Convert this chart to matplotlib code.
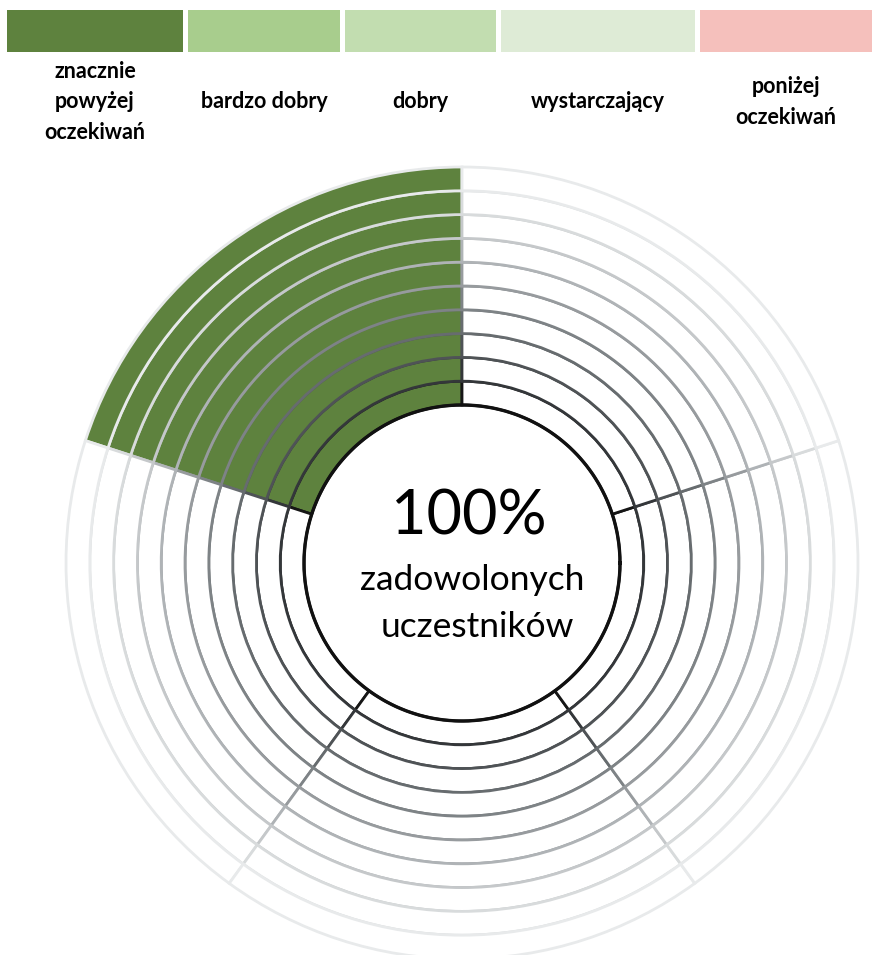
import numpy as np
import matplotlib.pyplot as plt

plt.rcParams['font.family'] = ['Lato', 'DejaVu Sans']

# rating categories, their colours and how many rings each one fills
categories = ["znacznie\npowyżej\noczekiwań", "bardzo dobry", "dobry",
              "wystarczający", "poniżej\noczekiwań"]
cat_colors = ["#5e823e", "#a8cd8d", "#c2ddb0", "#deebd6", "#f5c0bc"]
rings_filled = [10, 0, 0, 0, 0]
satisfied_pct = 100

N_RINGS = 10
R_INNER = 158
RING_W = 23.8
# ring outline colours, dark in the middle fading outward
ring_edges = ['#161616', '#34373a', '#4f5356', '#676c6f', '#7e8386',
              '#979b9e', '#afb3b6', '#c5c8ca', '#d8dbdc', '#e8eaeb']

W, H = 872, 955
fig = plt.figure(figsize=(W / 100, H / 100), dpi=100)

# legend strip on top
box_left = [7, 188, 345, 501, 700]
box_width = [176, 152, 151, 194, 172]
lax = fig.add_axes([0, 0, 1, 1])
lax.set_xlim(0, W)
lax.set_ylim(H, 0)
lax.set_axis_off()
lax.bar(box_left, [42] * 5, width=box_width, bottom=10, align='edge',
        color=cat_colors, linewidth=0)
for left, w, name in zip(box_left, box_width, categories):
    lax.text(left + w / 2, 102, name, ha='center', va='center',
             fontsize=15.5, fontweight='bold', linespacing=1.55,
             multialignment='center')

# polar ring chart, 1 radial unit == 1 pixel
cx, cy, rmax = 462, 563, 400
ax = fig.add_axes([(cx - rmax) / W, (H - cy - rmax) / H, 2 * rmax / W, 2 * rmax / H],
                  projection='polar')
ax.set_ylim(0, rmax)
ax.set_axis_off()
ax.patch.set_alpha(0)

n = len(categories)
step = 2 * np.pi / n
for i in range(N_RINGS):
    for k in range(n):
        theta = np.pi / 2 + step / 2 + k * step
        fc = cat_colors[k] if i < rings_filled[k] else 'white'
        ax.bar(theta, RING_W, width=step, bottom=R_INNER + i * RING_W,
               color=fc, edgecolor=ring_edges[i], linewidth=2.0)

t = np.linspace(0, 2 * np.pi, 400)
ax.plot(t, np.full_like(t, R_INNER), color='#111111', lw=2.4)

lax.text(469, 534, f"{satisfied_pct}%", ha='center', va='baseline', fontsize=44)
lax.text(472, 590, "zadowolonych", ha='center', va='baseline', fontsize=25.5)
lax.text(477, 637, "uczestników", ha='center', va='baseline', fontsize=25.5)

fig.savefig("out.png", dpi=100)
